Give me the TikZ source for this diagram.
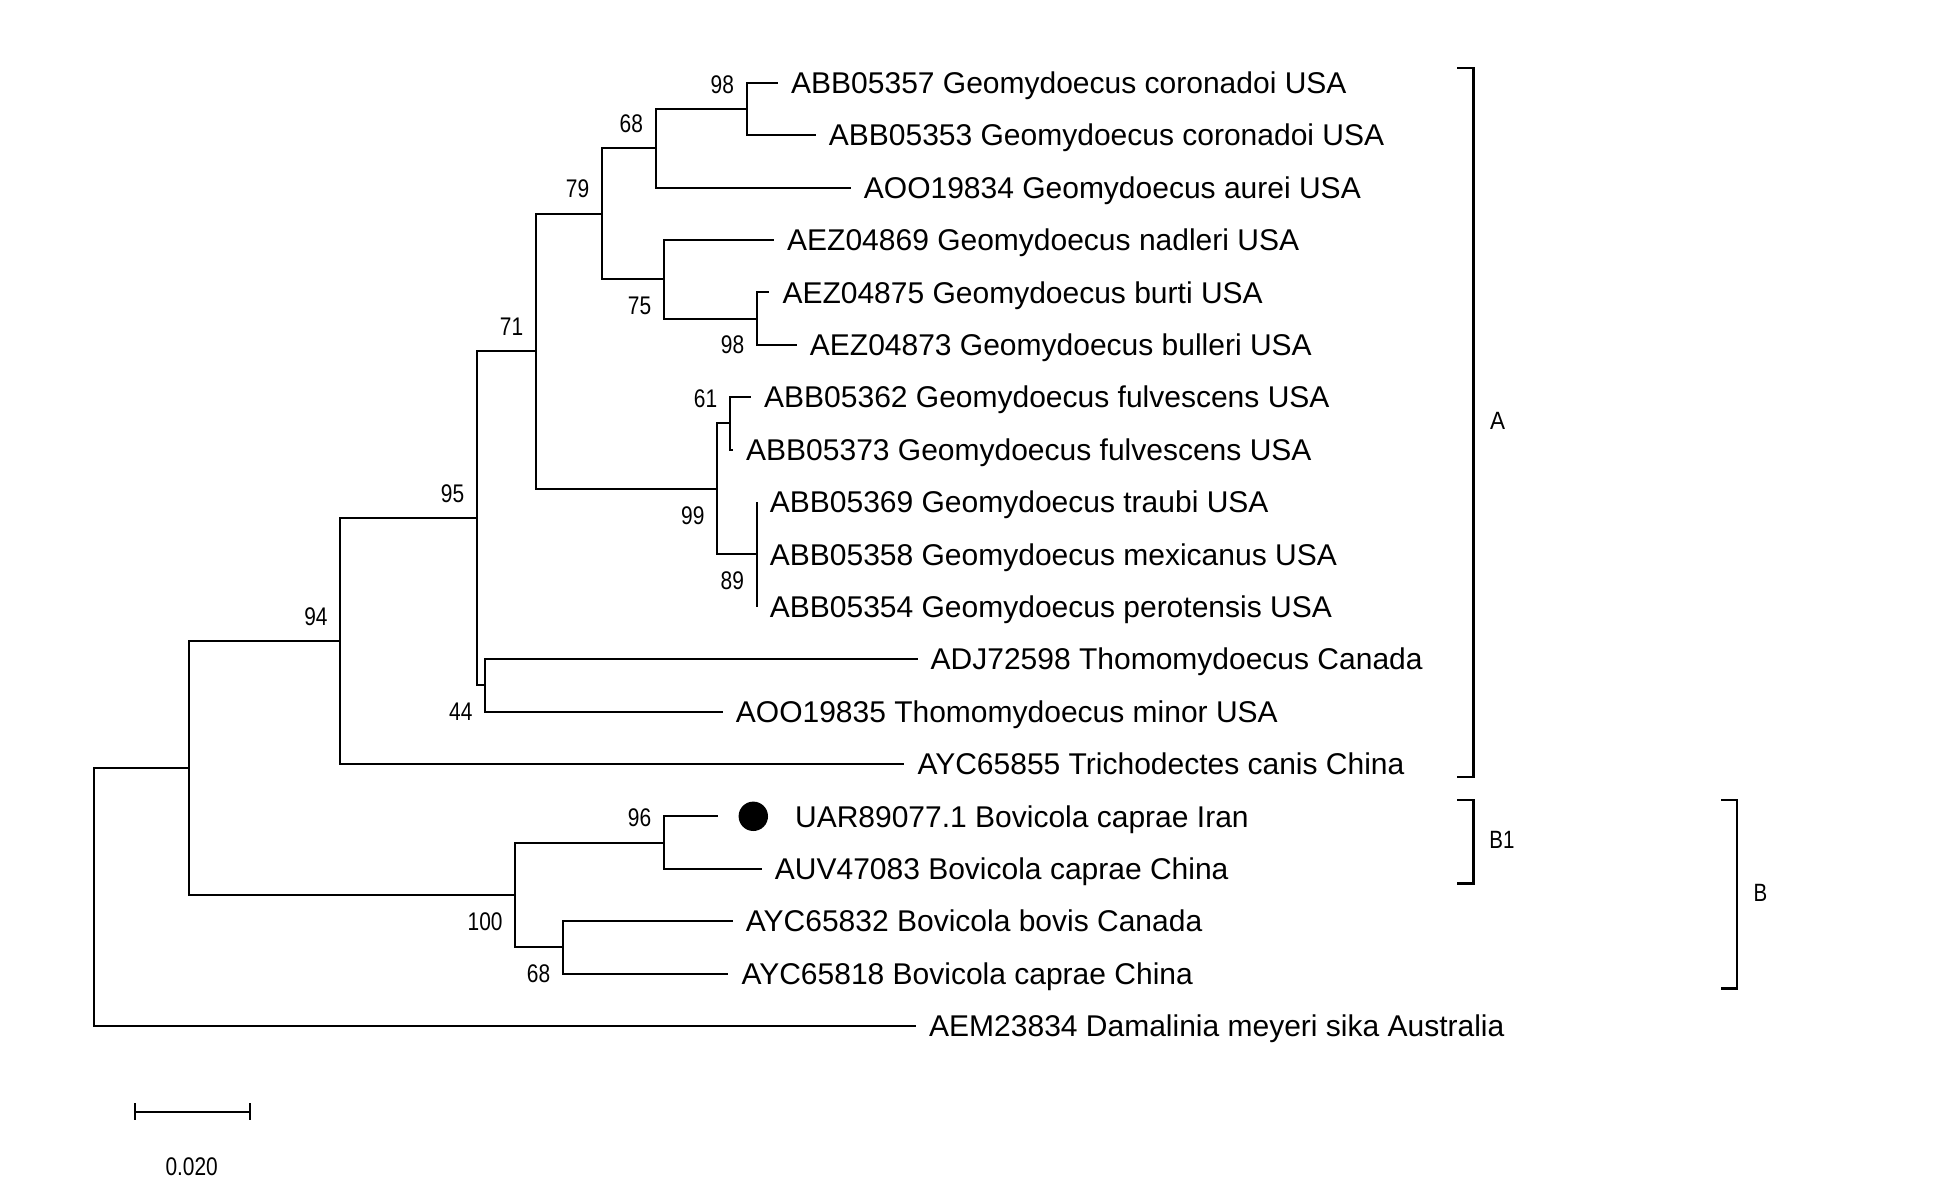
\documentclass[tikz,border=0pt]{standalone}
\usepackage{fontspec}
\setmainfont{Liberation Sans}
\usetikzlibrary{positioning}
\tikzset{
	branch/.style={line width=1pt},
	leaf/.style={anchor=west, inner xsep=6.4pt, inner ysep=0pt, text height=10.74pt, text depth=0pt, font=\fontsize{15pt}{18pt}\selectfont},
	boot/.style={inner sep=0pt, font=\fontsize{12.75pt}{15pt}\selectfont},
	clade/.style={inner sep=0pt, font=\fontsize{12.5pt}{15pt}\selectfont},
}
\newcommand{\bootnum}[1]{\scalebox{0.82}[1]{#1}}

\begin{document}
\begin{tikzpicture}[x=0.5pt, y=-0.5pt]
			%%%%% START %%%%%
			\useasboundingbox (0,0) rectangle (1935,1199);
			
			\coordinate (root) at (93.5,897);
			\coordinate (nP) at (188.6,768);
			\coordinate (n94) at (340.4,641.1);
			\coordinate (n95) at (477,518.3);
			\coordinate (n71) at (536,351.25);
			\coordinate (n79) at (602,213.7);
			\coordinate (n68a) at (655.7,148.2);
			\coordinate (n98a) at (746.7,108.9);
			\coordinate (n75) at (664,279.2);
			\coordinate (n98b) at (757,318.5);
			\coordinate (n99) at (717.3,488.8);
			\coordinate (n61) at (730,423.3);
			\coordinate (n89) at (756.7,554.3);
			\coordinate (n44) at (485.3,685.3);
			\coordinate (n100) at (515.4,894.9);
			\coordinate (n96) at (664,842.5);
			\coordinate (n68b) at (563,947.3);
			
			\coordinate (e0) at (778,82.7);
			\coordinate (e1) at (815.7,135.1);
			\coordinate (e2) at (850.7,187.5);
			\coordinate (e3) at (774,239.9);
			\coordinate (e4) at (769.3,292.3);
			\coordinate (e5) at (796.7,344.7);
			\coordinate (e6) at (751,397.1);
			\coordinate (e7) at (733,449.5);
			\coordinate (e8) at (756.7,501.9);
			\coordinate (e9) at (756.7,554.3);
			\coordinate (e10) at (756.7,606.7);
			\coordinate (e11) at (917.5,659.1);
			\coordinate (e12) at (722.7,711.5);
			\coordinate (e13) at (904.3,763.9);
			\coordinate (e14) at (718.4,816.3);
			\coordinate (e15) at (761.7,868.7);
			\coordinate (e16) at (732.7,921.1);
			\coordinate (e17) at (728.3,973.5);
			\coordinate (e18) at (916,1025.9);
			
			\draw[branch] (root) |- (nP);
			\draw[branch] (root) |- (e18);
			\draw[branch] (nP) |- (n94);
			\draw[branch] (nP) |- (n100);
			\draw[branch] (n94) |- (n95);
			\draw[branch] (n94) |- (e13);
			\draw[branch] (n95) |- (n71);
			\draw[branch] (n95) |- (n44);
			\draw[branch] (n71) |- (n79);
			\draw[branch] (n71) |- (n99);
			\draw[branch] (n79) |- (n68a);
			\draw[branch] (n79) |- (n75);
			\draw[branch] (n68a) |- (n98a);
			\draw[branch] (n68a) |- (e2);
			\draw[branch] (n98a) |- (e0);
			\draw[branch] (n98a) |- (e1);
			\draw[branch] (n75) |- (e3);
			\draw[branch] (n75) |- (n98b);
			\draw[branch] (n98b) |- (e4);
			\draw[branch] (n98b) |- (e5);
			\draw[branch] (n99) |- (n61);
			\draw[branch] (n99) |- (n89);
			\draw[branch] (n61) |- (e6);
			\draw[branch] (n61) |- (e7);
			\draw[branch] (n89) |- (e8);
			\draw[branch] (n89) |- (e9);
			\draw[branch] (n89) |- (e10);
			\draw[branch] (n44) |- (e11);
			\draw[branch] (n44) |- (e12);
			\draw[branch] (n100) |- (n96);
			\draw[branch] (n100) |- (n68b);
			\draw[branch] (n96) |- (e14);
			\draw[branch] (n96) |- (e15);
			\draw[branch] (n68b) |- (e16);
			\draw[branch] (n68b) |- (e17);
			
			\node[boot, above left=7.6pt and 6.2pt of n98a] (b98a) {\bootnum{98}};
			\node[boot, above left=7.6pt and 6.2pt of n68a] (b68a) {\bootnum{68}};
			\node[boot, above left=7.6pt and 6.2pt of n79] (b79) {\bootnum{79}};
			\node[boot, below left=8.6pt and 6.2pt of n75] (b75) {\bootnum{75}};
			\node[boot, below left=8.6pt and 6.2pt of n98b] (b98b) {\bootnum{98}};
			\node[boot, above left=7.6pt and 6.2pt of n71] (b71) {\bootnum{71}};
			\node[boot, above left=7.6pt and 6.2pt of n61] (b61) {\bootnum{61}};
			\node[boot, below left=8.6pt and 6.2pt of n99] (b99) {\bootnum{99}};
			\node[boot, below left=8.6pt and 6.2pt of n89] (b89) {\bootnum{89}};
			\node[boot, above left=7.6pt and 6.2pt of n95] (b95) {\bootnum{95}};
			\node[boot, below left=8.6pt and 6.2pt of n44] (b44) {\bootnum{44}};
			\node[boot, above left=7.6pt and 6.2pt of n94] (b94) {\bootnum{94}};
			\node[boot, above left=7.6pt and 6.2pt of n96] (b96) {\bootnum{96}};
			\node[boot, below left=8.6pt and 6.2pt of n100] (b100) {\bootnum{100}};
			\node[boot, below left=8.6pt and 6.2pt of n68b] (b68b) {\bootnum{68}};
			
			\node[leaf] (t0) at (e0) {ABB05357 Geomydoecus coronadoi USA};
			\node[leaf] (t1) at (e1) {ABB05353 Geomydoecus coronadoi USA};
			\node[leaf] (t2) at (e2) {AOO19834 Geomydoecus aurei USA};
			\node[leaf] (t3) at (e3) {AEZ04869 Geomydoecus nadleri USA};
			\node[leaf] (t4) at (e4) {AEZ04875 Geomydoecus burti USA};
			\node[leaf] (t5) at (e5) {AEZ04873 Geomydoecus bulleri USA};
			\node[leaf] (t6) at (e6) {ABB05362 Geomydoecus fulvescens USA};
			\node[leaf] (t7) at (e7) {ABB05373 Geomydoecus fulvescens USA};
			\node[leaf] (t8) at (e8) {ABB05369 Geomydoecus traubi USA};
			\node[leaf] (t9) at (e9) {ABB05358 Geomydoecus mexicanus USA};
			\node[leaf] (t10) at (e10) {ABB05354 Geomydoecus perotensis USA};
			\node[leaf] (t11) at (e11) {ADJ72598 Thomomydoecus Canada};
			\node[leaf] (t12) at (e12) {AOO19835 Thomomydoecus minor USA};
			\node[leaf] (t13) at (e13) {AYC65855 Trichodectes canis China};
			\node[circle, fill=black, inner sep=0pt, minimum size=14.7pt] (mark) at (753.3,816.3) {};
			\node[leaf, right=6.75pt of mark] (t14) {UAR89077.1 Bovicola caprae Iran};
			\node[leaf] (t15) at (e15) {AUV47083 Bovicola caprae China};
			\node[leaf] (t16) at (e16) {AYC65832 Bovicola bovis Canada};
			\node[leaf] (t17) at (e17) {AYC65818 Bovicola caprae China};
			\node[leaf] (t18) at (e18) {AEM23834 Damalinia meyeri sika Australia};
			
			\draw[line width=1.2pt] (1457,67.9) -| (1473.3,777) -- (1457,777);
			\node[clade] (cA) at (1497.5,421) {\scalebox{0.9}[1]{A}};
			\draw[line width=1.2pt] (1457,800) -| (1473.3,883.3) -- (1457,883.3);
			\node[clade] (cB1) at (1502,840) {\bootnum{B1}};
			\draw[line width=1.2pt] (1721,800) -| (1736.7,988.3) -- (1721,988.3);
			\node[clade] (cB) at (1760.5,892.5) {\bootnum{B}};
			
			\draw[line width=1pt] (135,1111.7) -- (250,1111.7);
			\draw[line width=1pt] (135,1103) -- (135,1120);
			\draw[line width=1pt] (250,1103) -- (250,1120);
			\node[boot] (scale) at (191.7,1167) {\bootnum{0.020}};
			
			%%%%% END %%%%%
\end{tikzpicture}
\end{document}
